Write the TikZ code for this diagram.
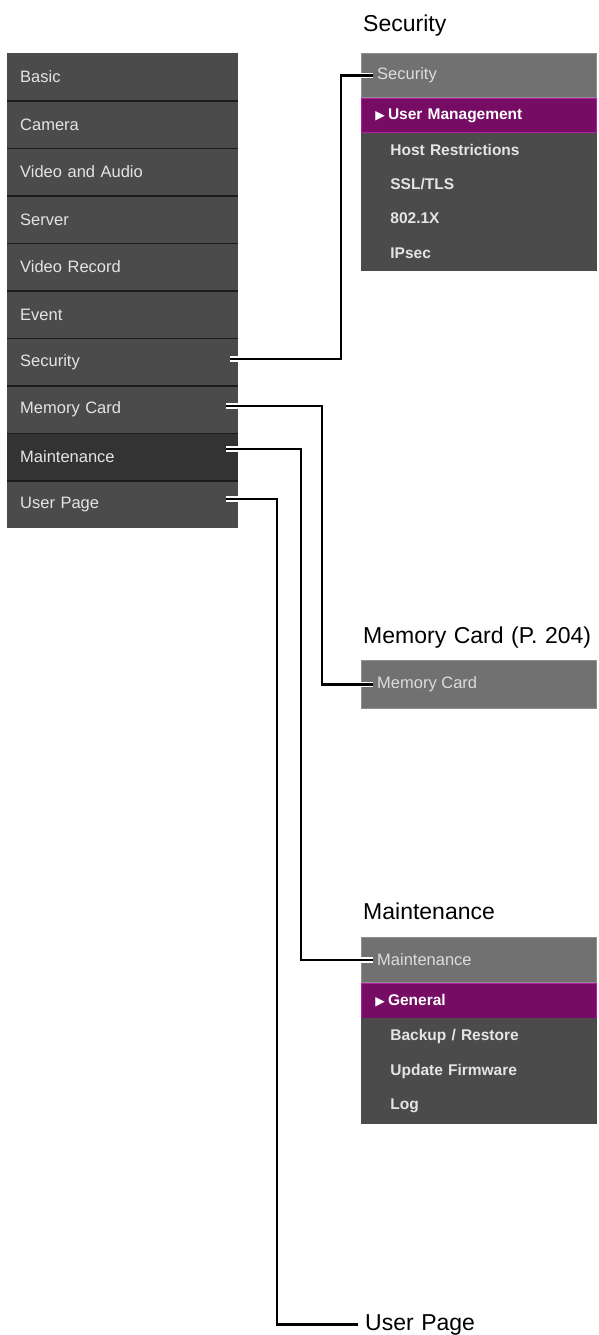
\documentclass[tikz,border=0pt]{standalone}
\usepackage{fontspec}
\setmainfont{Liberation Sans}
\newfontfamily\symfont{DejaVu Sans}
\usetikzlibrary{positioning}
\definecolor{menuGrey}{HTML}{4B4B4B}
\definecolor{menuDark}{HTML}{333333}
\definecolor{menuSep}{HTML}{1C1C1C}
\definecolor{headGrey}{HTML}{717171}
\definecolor{headEdge}{HTML}{8E8E8E}
\definecolor{selPurple}{HTML}{760C64}
\definecolor{selEdge}{HTML}{B41EA0}
\definecolor{menuText}{HTML}{E4E4E4}
\definecolor{headText}{HTML}{DCDCDC}
\tikzset{
  menurow/.style    = {fill=#1, anchor=north west, minimum height=47.5pt,
                       text width=205pt, inner xsep=13pt, inner ysep=0pt,
                       text=menuText, font=\fontsize{16.5}{18}\selectfont},
  sepline/.style    = {menuSep, line width=1.6pt},
  subhead/.style    = {fill=headGrey, draw=headEdge, line width=0.8pt, anchor=north west,
                       minimum width=235pt, minimum height=#1, inner sep=0pt},
  headtxt/.style    = {anchor=west, inner xsep=4pt, text=headText,
                       font=\fontsize{16.5}{18}\selectfont},
  selrow/.style     = {fill=selPurple, draw=selEdge, line width=0.8pt, minimum height=#1,
                       text width=207pt, inner xsep=14pt, inner ysep=0pt, text=white,
                       font=\bfseries\fontsize{15.5}{17}\selectfont},
  subrow/.style     = {fill=menuGrey, draw=menuGrey, line width=0.6pt, outer sep=0pt,
                       minimum height=#1, text width=177pt,
                       inner xsep=29pt, inner ysep=0pt, text=menuText,
                       font=\bfseries\fontsize{15.5}{17}\selectfont},
  paneltitle/.style = {anchor=base west, inner xsep=5pt, inner ysep=0pt, black,
                       font={\fontsize{23}{26}\selectfont\spaceskip=7.5pt\relax}},
  link/.style       = {black, line width=2.4pt, preaction={draw=white, line width=5.5pt}},
}
\newcommand\seltri{{\symfont\fontsize{12.5}{12}\selectfont ▶}\hspace{3pt}}

\begin{document}
\begin{tikzpicture}[x=1pt,y=-1pt]
  \useasboundingbox[fill=white] (0,0) rectangle (598,1335);
  % left menu
  \foreach \n/\t/\c [count=\i from 0] in {basic/Basic/menuGrey, camera/Camera/menuGrey,
      video/Video and Audio/menuGrey, server/Server/menuGrey, record/Video Record/menuGrey,
      event/Event/menuGrey, security/Security/menuGrey, memcard/Memory Card/menuGrey,
      maint/Maintenance/menuDark, userpage/User Page/menuGrey}
    \node[menurow=\c] (\n) at (7,{53+47.5*\i}) {\t};
  \foreach \n in {basic,camera,video,server,record,event,security,memcard,maint}
    \draw[sepline] (\n.south west) -- (\n.south east);

  % security panel
  \node[paneltitle] (secTitle) at (358,32) {Security};
  \node[subhead=44pt] (secHead) at (361,53) {};
  \node[headtxt] (secHeadTxt) at ([xshift=12pt]secHead.west) {Security};
  \node[selrow=34.3pt, below=0pt of secHead] (secSel) {\seltri User Management};
  \node[subrow=34.3pt, below=0pt of secSel] (secHost) {Host Restrictions};
  \node[subrow=34.3pt, below=0pt of secHost] (secSsl) {SSL/TLS};
  \node[subrow=34.3pt, below=0pt of secSsl] (secDot) {802.1X};
  \node[subrow=34.3pt, below=0pt of secDot] (secIpsec) {IPsec};

  % memory card panel
  \node[paneltitle] (mcTitle) at (358,643) {Memory Card (P. 204)};
  \node[subhead=48pt] (mcHead) at (361,660) {};
  \node[headtxt] (mcHeadTxt) at ([xshift=12pt]mcHead.west) {Memory Card};

  % maintenance panel
  \node[paneltitle] (mtTitle) at (358,919) {Maintenance};
  \node[subhead=45pt] (mtHead) at (361,937) {};
  \node[headtxt] (mtHeadTxt) at ([xshift=12pt]mtHead.west) {Maintenance};
  \node[selrow=35pt, below=0pt of mtHead] (mtSel) {\seltri General};
  \node[subrow=35pt, below=0pt of mtSel] (mtBackup) {Backup / Restore};
  \node[subrow=35pt, below=0pt of mtBackup] (mtFirm) {Update Firmware};
  \node[subrow=35pt, below=0pt of mtFirm] (mtLog) {Log};

  % user page
  \node[paneltitle, inner xsep=7pt] (upTitle) at (358,1330) {User Page};

  % connectors
  \coordinate (secStub) at (230,359);
  \coordinate (mcStub) at (226,406);
  \coordinate (mtStub) at (226,449);
  \coordinate (upStub) at (226,499);
  \draw[link] (secStub) -- ++(111,0) |- (secHeadTxt.west);
  \draw[link] (mcStub) -- ++(96,0) |- (mcHeadTxt.west);
  \draw[link] (mtStub) -- ++(75,0) |- (mtHeadTxt.west);
  \draw[link] (upStub) -- ++(51,0) |- (upTitle.west);
\end{tikzpicture}
\end{document}
